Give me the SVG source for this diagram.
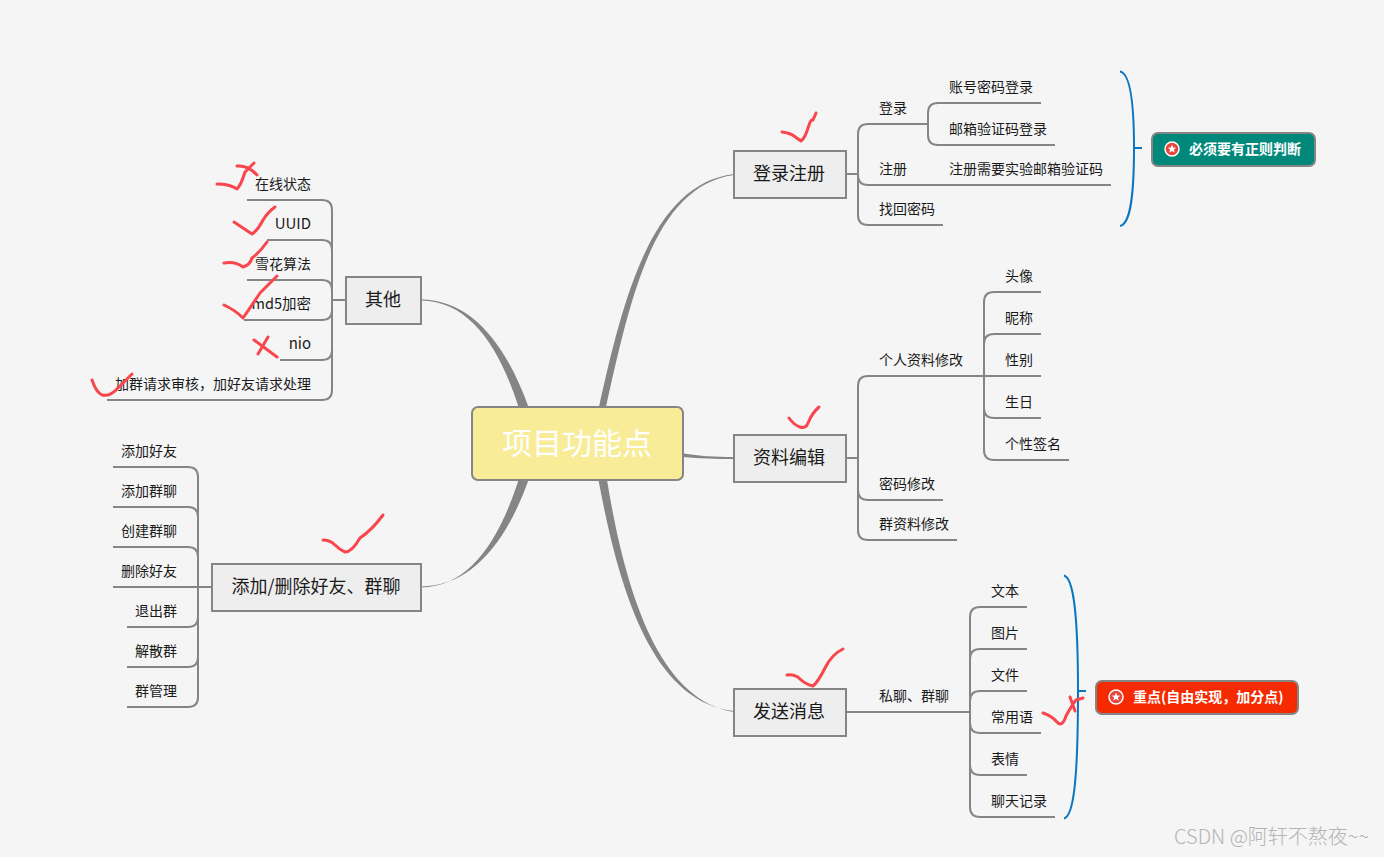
<svg xmlns="http://www.w3.org/2000/svg" width="1384" height="857" viewBox="0 0 1384 857">
<style>
text{font-family:"Noto Sans CJK SC","Liberation Sans",sans-serif;fill:#1a1a1a}
.t{font-size:14px;dominant-baseline:auto}
.e{text-anchor:end}
.h{font-size:18px;text-anchor:middle}
.box{fill:#eeeeee;stroke:#858585;stroke-width:2}
.l{fill:none;stroke:#858585;stroke-width:2}
.b{fill:#858585;stroke:none}
.br{fill:none;stroke:#0a75c2;stroke-width:2}
.r{fill:none;stroke:#f8464c;stroke-width:3;stroke-linecap:round;stroke-linejoin:round}
.tag{font-size:14px;font-weight:700;fill:#fff}
</style>
<defs>
<g id="star"><circle r="7" fill="#e8453c" stroke="#fff" stroke-width="1.5"/><path d="M0-4.4 1.2-1.5 4.3-1.3 1.9.6 2.7 3.6 0 2 -2.7 3.6 -1.9.6 -4.3-1.3 -1.2-1.5Z" fill="#fff"/></g>
</defs>
<rect width="1384" height="857" fill="#f5f5f5"/>
<g id="connectors">
<path class="b" d="M599 407C625 289 654 184 734 174V175C656 186 631.500 291 606 407Z"/>
<path class="b" d="M683 453.500C700 456 715 457 734 457V459C715 459 700 458.500 683 457Z"/>
<path class="b" d="M598.500 480C619 590 652 702 734 711V712C658 700 625 590 607 480Z"/>
<path class="b" d="M528.500 407C506 344 471 299.500 421 299.500V300.500C469 301 499 346 518.500 407Z"/>
<path class="b" d="M528.500 480C506 543 471 586.500 421 586.500V587.500C469 587 499 541 518.500 480Z"/>
<path class="l" d="M846 174H858M868 124H928M858 215V134Q858 124 868 124M858 175Q858 185 868 185H1111M858 215Q858 225 868 225H943M928 124V113Q928 103 938 103H1041M928 124V135Q928 145 938 145H1055"/>
<path class="l" d="M846 458H858M858 530V386Q858 376 868 376H1041M858 490Q858 500 868 500H943M858 530Q858 540 868 540H957M984 450V302Q984 292 994 292H1041M984 344Q984 334 994 334H1041M984 408Q984 418 994 418H1041M984 450Q984 460 994 460H1069"/>
<path class="l" d="M846 712H970M970 807V617Q970 607 980 607H1027M970 659Q970 649 980 649H1027M970 701Q970 691 980 691H1027M970 723Q970 733 980 733H1041M970 765Q970 775 980 775H1027M970 807Q970 817 980 817H1055"/>
<path class="l" d="M346 300H332M332 390V210Q332 200 322 200H247M332 250Q332 240 322 240H267M332 290Q332 280 322 280H247M332 310Q332 320 322 320H244M332 350Q332 360 322 360H280M332 390Q332 400 322 400H107"/>
<path class="l" d="M212 587H113M198 697V477Q198 467 188 467H113M198 517Q198 507 188 507H113M198 557Q198 547 188 547H113M198 617Q198 627 188 627H127M198 657Q198 667 188 667H127M198 697Q198 707 188 707H127"/>
<path class="br" d="M1120 71.500C1129 73 1134 95 1134 148C1134 204 1129 224 1120 226M1134 148H1142"/>
<path class="br" d="M1064 575.500C1073 578 1078 610 1078 691C1078 785 1073 816 1064 818.500M1078 691H1086"/>
</g>
<g id="root"><rect x="472" y="407" width="211" height="73" rx="6" fill="#f9ec98" stroke="#858585" stroke-width="2"/><text x="577" y="454" text-anchor="middle" style="font-size:30px;fill:#fff">项目功能点</text></g>
<g id="n-login"><rect class="box" x="734" y="151" width="112" height="47"/><text class="h" x="789" y="180">登录注册</text></g>
<g id="n-profile"><rect class="box" x="734" y="435" width="112" height="47"/><text class="h" x="789" y="464">资料编辑</text></g>
<g id="n-message"><rect class="box" x="734" y="689" width="112" height="47"/><text class="h" x="789" y="718">发送消息</text></g>
<g id="n-other"><rect class="box" x="346" y="277" width="75" height="47"/><text class="h" x="383" y="306">其他</text></g>
<g id="n-friends"><rect class="box" x="212" y="564" width="209" height="47"/><text class="h" x="316" y="593">添加/删除好友、群聊</text></g>
<g id="login-items">
<text class="t" x="879" y="113">登录</text><text class="t" x="949" y="92">账号密码登录</text><text class="t" x="949" y="134">邮箱验证码登录</text><text class="t" x="879" y="174">注册</text><text class="t" x="949" y="174">注册需要实验邮箱验证码</text><text class="t" x="879" y="214">找回密码</text>
</g>
<g id="profile-items">
<text class="t" x="879" y="365">个人资料修改</text><text class="t" x="1005" y="281">头像</text><text class="t" x="1005" y="323">昵称</text><text class="t" x="1005" y="365">性别</text><text class="t" x="1005" y="407">生日</text><text class="t" x="1005" y="449">个性签名</text><text class="t" x="879" y="489">密码修改</text><text class="t" x="879" y="529">群资料修改</text>
</g>
<g id="message-items">
<text class="t" x="879" y="701">私聊、群聊</text><text class="t" x="991" y="596">文本</text><text class="t" x="991" y="638">图片</text><text class="t" x="991" y="680">文件</text><text class="t" x="991" y="722">常用语</text><text class="t" x="991" y="764">表情</text><text class="t" x="991" y="806">聊天记录</text>
</g>
<g id="other-items">
<text class="t e" x="311" y="189">在线状态</text><text class="t e" x="311" y="229" style="font-size:15px">UUID</text><text class="t e" x="311" y="269">雪花算法</text><text class="t e" x="311" y="309" style="font-size:14.500px">md5加密</text><text class="t e" x="311" y="349" style="font-size:15px">nio</text><text class="t e" x="311" y="389">加群请求审核，加好友请求处理</text>
</g>
<g id="friends-items">
<text class="t e" x="177" y="456">添加好友</text><text class="t e" x="177" y="496">添加群聊</text><text class="t e" x="177" y="536">创建群聊</text><text class="t e" x="177" y="576">删除好友</text><text class="t e" x="177" y="616">退出群</text><text class="t e" x="177" y="656">解散群</text><text class="t e" x="177" y="696">群管理</text>
</g>
<g id="tag-regex"><rect x="1152" y="133" width="163" height="33" rx="6" fill="#00897b" stroke="#858585" stroke-width="2"/><use href="#star" x="1172" y="149"/><text class="tag" x="1189" y="154">必须要有正则判断</text></g>
<g id="tag-key"><rect x="1096" y="681" width="202" height="33" rx="6" fill="#f52a00" stroke="#858585" stroke-width="2"/><use href="#star" x="1116" y="697"/><text class="tag" x="1133" y="702">重点(自由实现，加分点)</text></g>
<g id="marks">
<path class="r" d="M782 132Q790 133 794 136T801 141Q805 138 808 128T813 120L816 113"/>
<path class="r" d="M789 418Q794 425 800 427T808 423Q812 413 819 407"/>
<path class="r" d="M787 675Q795 674 800 679T813 686Q818 682 825 668T843 649"/>
<path class="r" d="M1043 713Q1052 716 1057 722T1066 716Q1072 705 1076 700L1083 698M1070 697L1075 711"/>
<path class="r" d="M323 540Q330 540 335 545T345 552Q352 552 360 538Q372 530 383 515"/>
<path class="r" d="M217 184Q230 184 237 189Q241 185 245 172L254 163M237 166Q248 165 257 175"/>
<path class="r" d="M234 222Q243 228 252 234Q258 230 263 220Q268 212 275 207"/>
<path class="r" d="M224 263Q235 261 243 267Q250 265 252 258Q260 252 267 242"/>
<path class="r" d="M224 305Q235 310 243 318Q250 308 260 293Q268 285 277 276"/>
<path class="r" d="M254 340L277 357M268 337L258 354"/>
<path class="r" d="M92 380Q96 392 102 395Q110 397 118 388L132 374"/>
</g>
<text id="watermark" x="1174" y="844" style="font-size:20px;font-weight:300;fill:#b4b4b4">CSDN @阿轩不熬夜~~</text>
</svg>
